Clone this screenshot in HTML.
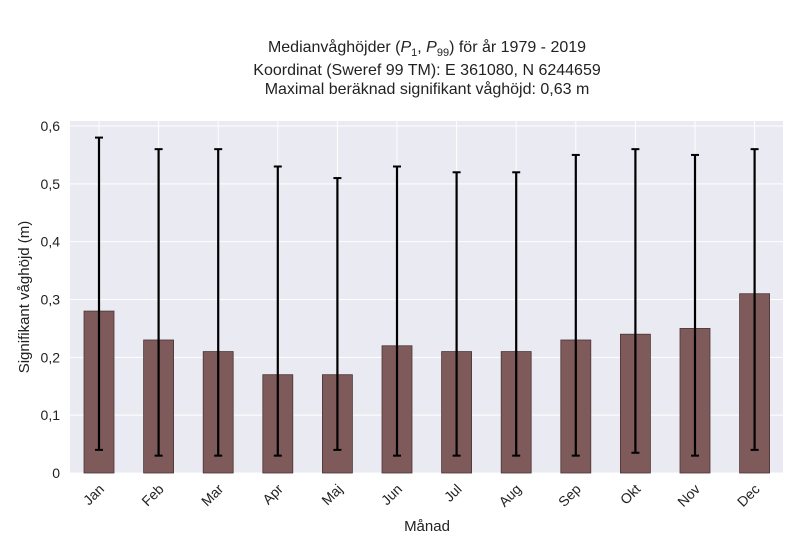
<!DOCTYPE html>
<html><head><meta charset="utf-8"><style>
body{margin:0;background:#fff;font-family:"Liberation Sans","DejaVu Sans",sans-serif;}
</style></head><body>
<svg id="c" width="800" height="550" xmlns="http://www.w3.org/2000/svg">
<rect x="70" y="121" width="713" height="352" fill="#eaeaf2"/>
<g id="grid"></g><g id="bars"></g><g id="ticks"></g>
<g font-size="16" fill="#222" text-anchor="middle">
<text x="427" y="52">Medianvåghöjder (<tspan font-style="italic">P</tspan><tspan font-size="11" dy="4">1</tspan><tspan dy="-4">, </tspan><tspan font-style="italic">P</tspan><tspan font-size="11" dy="4">99</tspan><tspan dy="-4">) för år 1979 - 2019</tspan></text>
<text x="427" y="75">Koordinat (Sweref 99 TM): E 361080, N 6244659</text>
<text x="427" y="94">Maximal beräknad signifikant våghöjd: 0,63 m</text>
</g>
<text x="427" y="531" font-size="15" fill="#222" text-anchor="middle">Månad</text>
<text transform="translate(29,297) rotate(-90)" font-size="15" fill="#222" text-anchor="middle">Signifikant våghöjd (m)</text>
</svg>
<script>
const months=["Jan","Feb","Mar","Apr","Maj","Jun","Jul","Aug","Sep","Okt","Nov","Dec"];
const medians=[0.28,0.23,0.21,0.17,0.17,0.22,0.21,0.21,0.23,0.24,0.25,0.31];
const p1=[0.04,0.03,0.03,0.03,0.04,0.03,0.03,0.03,0.03,0.035,0.03,0.04];
const p99=[0.58,0.56,0.56,0.53,0.51,0.53,0.52,0.52,0.55,0.56,0.55,0.56];
const yTicks=[0,0.1,0.2,0.3,0.4,0.5,0.6];
const yTickLabels=["0","0,1","0,2","0,3","0,4","0,5","0,6"];
const NS="http://www.w3.org/2000/svg";
const y=v=>473-v*578.3;
const x=i=>99+i*59.6;
function mk(t,a,p){const e=document.createElementNS(NS,t);for(const k in a)e.setAttribute(k,a[k]);p.appendChild(e);return e;}
const G=document.getElementById('grid'),B=document.getElementById('bars'),T=document.getElementById('ticks');
yTicks.forEach((v,i)=>{
 const l=mk('line',{x1:70,x2:783,y1:y(v),y2:y(v),stroke:'#fff','stroke-width':1},G);
 
 
 const t=mk('text',{x:60,y:y(v)+5,'text-anchor':'end','font-size':14,fill:'#222'},T);
 t.textContent=yTickLabels[i];
 
 
});
months.forEach((m,i)=>{
 const g=mk('line',{x1:x(i),x2:x(i),y1:121,y2:473,stroke:'#fff','stroke-width':1},G);
 
 
 const r=mk('rect',{x:x(i)-15,y:y(medians[i]),width:30,height:473-y(medians[i]),fill:'#7e5a5a',stroke:'#4a3535','stroke-width':0.8},B);
 
 
 const e=mk('line',{x1:x(i),x2:x(i),y1:y(p99[i]),y2:y(p1[i]),stroke:'#000','stroke-width':2.2},B);
 
 
 [p99[i],p1[i]].forEach(v=>{
  const c=mk('line',{x1:x(i)-4,x2:x(i)+4,y1:y(v),y2:y(v),stroke:'#000','stroke-width':2},B);
  
  
 });
 const t=mk('text',{x:0,y:0,'text-anchor':'end','font-size':14,fill:'#222',transform:`translate(${x(i)+6},${490}) rotate(-45)`},T);
 t.textContent=m;
 
 
});
</script>
</body></html>
